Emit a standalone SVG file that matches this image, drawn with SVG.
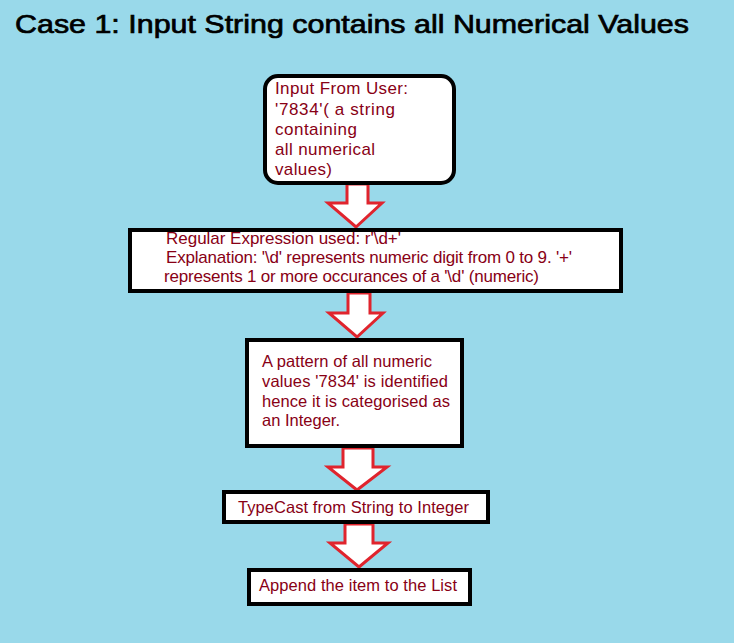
<svg xmlns="http://www.w3.org/2000/svg" width="734" height="643" viewBox="0 0 734 643">
<style>
.bg{fill:#99d9ea}
.box{fill:#ffffff;stroke:#000000;stroke-width:4}
.t{font-family:"Liberation Sans",Arial,sans-serif;font-size:17px;fill:#880015}
.s{font-size:16.5px}
.title{font-family:"Liberation Sans",Arial,sans-serif;font-size:26px;fill:#000000;stroke:#000000;stroke-width:0.7}
.arr{fill:#ffffff;stroke:#e0242d;stroke-width:3;stroke-linejoin:miter}
</style>
<rect class="bg" x="0" y="0" width="734" height="643"/>
<text class="title" x="15" y="33" textLength="674" lengthAdjust="spacingAndGlyphs">Case 1: Input String contains all Numerical Values</text>
<g id="connectors">
<path class="arr" d="M347,184 L368,184 L368,203 L382,203 L356,227 L328,203 L347,203 Z"/>
<path class="arr" d="M348,293 L370,293 L370,313 L383,313 L357,337 L329,313 L348,313 Z"/>
<path class="arr" d="M343,448 L373,448 L373,467 L387,467 L357,490 L328,467 L343,467 Z"/>
<path class="arr" d="M345,524 L373,524 L373,543 L388,543 L359,567 L330,543 L345,543 Z"/>
</g>
<g id="node1">
<rect class="box" x="265" y="76" width="189" height="107" rx="13" ry="13"/>
<text class="t"><tspan x="275" y="94" textLength="133">Input From User:</tspan><tspan x="275" y="115" textLength="120">'7834'( a string</tspan><tspan x="275" y="135" textLength="82">containing</tspan><tspan x="275" y="155" textLength="100">all numerical</tspan><tspan x="275" y="175" textLength="57">values)</tspan></text>
</g>
<g id="node2">
<rect class="box" x="130" y="230" width="491" height="61"/>
<text class="t"><tspan x="166" y="244" textLength="235">Regular Expression used: r'\d+'</tspan><tspan x="166" y="263" textLength="406">Explanation: '\d' represents numeric digit from 0 to 9. '+'</tspan><tspan x="164" y="282" textLength="375">represents 1 or more occurances of a '\d' (numeric)</tspan></text>
</g>
<g id="node3">
<rect class="box" x="247" y="340" width="215" height="106"/>
<text class="t s"><tspan x="262" y="367" textLength="170">A pattern of all numeric</tspan><tspan x="262" y="387" textLength="186">values '7834' is identified</tspan><tspan x="262" y="407" textLength="188">hence it is categorised as</tspan><tspan x="262" y="426" textLength="78">an Integer.</tspan></text>
</g>
<g id="node4">
<rect class="box" x="224" y="492" width="264" height="30"/>
<text class="t s" x="238" y="513" textLength="231">TypeCast from String to Integer</text>
</g>
<g id="node5">
<rect class="box" x="249" y="570" width="221" height="34"/>
<text class="t s" x="259" y="591" textLength="198">Append the item to the List</text>
</g>
</svg>
